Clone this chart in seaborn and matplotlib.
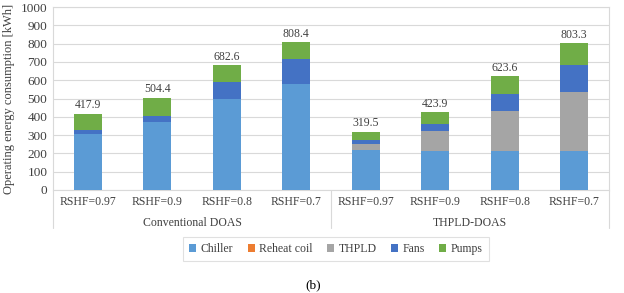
import numpy as np
import pandas as pd
import matplotlib
matplotlib.use("Agg")
import matplotlib.pyplot as plt
import seaborn as sns
from matplotlib.patches import Patch
from matplotlib.lines import Line2D

# Data
groups = ["Conventional DOAS"] * 4 + ["THPLD-DOAS"] * 4
cases = ["RSHF=0.97", "RSHF=0.9", "RSHF=0.8", "RSHF=0.7"] * 2
chiller = [305, 369, 495, 577, 217, 213, 213, 215]
reheat = [0, 0, 0, 0, 0, 0, 0, 0]
thpld = [0, 0, 0, 0, 35, 110, 219, 323]
fans = [23, 38, 94, 138, 22, 40, 95, 143]
totals = [417.9, 504.4, 682.6, 808.4, 319.5, 423.9, 623.6, 803.3]

components = ["Chiller", "Reheat coil", "THPLD", "Fans", "Pumps"]
colors = ["#5B9BD5", "#ED7D31", "#A5A5A5", "#4472C4", "#70AD47"]

pumps = [t - c - r - th - f for t, c, r, th, f in zip(totals, chiller, reheat, thpld, fans)]

df = pd.DataFrame({
    "key": [g + "|" + c for g, c in zip(groups, cases)],
    "Chiller": chiller,
    "Reheat coil": reheat,
    "THPLD": thpld,
    "Fans": fans,
    "Pumps": pumps,
})
# cumulative heights for stacking
cum = df[components].cumsum(axis=1)
cum["key"] = df["key"]

sns.set_style("white")
plt.rcParams['font.family'] = ['Liberation Serif', 'DejaVu Serif']

fig = plt.figure(figsize=(6.24, 2.93), dpi=100)
ax = fig.add_axes([53 / 624, 1 - 190 / 293, (609 - 53) / 624, (190 - 7) / 293])

# draw from the top of the stack down, each bar covers the one beneath
for comp, col in zip(components[::-1], colors[::-1]):
    sns.barplot(data=cum, x="key", y=comp, color=col, width=0.4,
                saturation=1, linewidth=0, ax=ax, zorder=3)

for i, t in enumerate(totals):
    ax.text(i, t + 12, f"{t:.1f}", ha="center", va="bottom", fontsize=8.5, color="#404040")

ax.set_ylim(0, 1000)
ax.set_xlim(-0.5, 7.5)
ax.set_yticks(np.arange(0, 1001, 100))
ax.yaxis.grid(True, color="#D9D9D9", linewidth=0.8, zorder=0)
ax.set_axisbelow(True)
ax.tick_params(axis="both", length=0, labelsize=8.5, colors="#404040", pad=4)
ax.tick_params(axis="y", labelsize=9.5)
ax.set_xticks(range(8))
ax.set_xticklabels(cases)
ax.set_xlabel("")
ax.set_ylabel("Operating energy consumption [kWh]", fontsize=9, color="#404040", labelpad=4)
for s in ax.spines.values():
    s.set_color("#D9D9D9")
    s.set_linewidth(0.8)

# group labels and separators below the axis
trans = ax.get_xaxis_transform()
for gx, gname in [(1.5, "Conventional DOAS"), (5.5, "THPLD-DOAS")]:
    ax.text(gx, -0.18, gname, transform=trans, ha="center", va="center",
            fontsize=8.5, color="#404040")
for sx in [-0.5, 3.5, 7.5]:
    ax.add_line(Line2D([sx, sx], [0, -0.21], transform=trans, color="#D9D9D9",
                       linewidth=0.8, clip_on=False))

handles = [Patch(facecolor=c, edgecolor="none") for c in colors]
leg = fig.legend(handles, components, loc="center", bbox_to_anchor=(336 / 624, 1 - 249 / 293),
                 ncol=5, fontsize=8.5, frameon=True, handlelength=0.6, handleheight=0.6,
                 handletextpad=0.4, columnspacing=1.2, borderpad=0.5, fancybox=False)
leg.get_frame().set_edgecolor("#D9D9D9")
leg.get_frame().set_linewidth(0.8)
for t in leg.get_texts():
    t.set_color("#404040")

fig.text(313 / 624, 1 - 285 / 293, "(b)", ha="center", va="center", fontsize=9.5, color="black")

fig.savefig("out.png", dpi=100)
